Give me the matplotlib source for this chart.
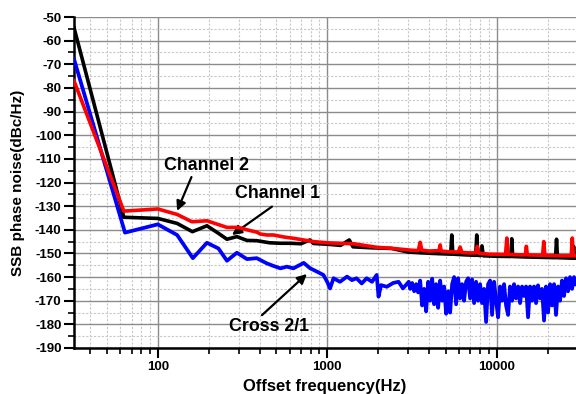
import matplotlib
matplotlib.use("Agg")
import matplotlib.pyplot as plt
from matplotlib.ticker import LogLocator, MultipleLocator, NullFormatter, FixedLocator, FixedFormatter

plt.rcParams['font.family'] = ['Liberation Sans', 'DejaVu Sans']
plt.rcParams['font.weight'] = 'bold'
plt.rcParams['axes.unicode_minus'] = False

# Channel 1 (black)
ch1_f = [32, 63, 100, 130, 160, 195, 228, 256, 293, 336, 384, 457, 530, 605, 700,
         790, 830, 1000, 1200, 1350, 1420, 1800, 2400, 3000, 3500, 4200, 5360, 5440,
         5520, 6500, 7530, 7640, 7750, 8050, 8200, 8350, 10000, 12150, 12300, 12450,
         15000, 22300, 22600, 22900, 28100, 28500, 28900, 29450]
ch1_db = [-54.5, -134.7, -135.2, -137.3, -140.8, -138.3, -141.5, -144, -142.9, -144.5,
          -144.6, -145.5, -145.7, -145.7, -145.9, -144.3, -145.8, -146.1, -146.6, -144.3,
          -147.2, -147.6, -147.9, -149.4, -149.7, -150, -150.3, -142.2, -150.3, -150.6,
          -150.8, -142.2, -150.8, -150.9, -146.8, -151, -151.2, -151.3, -143.8, -151.3,
          -151.5, -151.8, -144, -151.8, -152, -147, -152, -152]

# Channel 2 (red)
ch2_f = [32, 63, 100, 130, 159, 195, 228, 256, 300, 336, 384, 403, 440, 482, 550, 632,
         830, 1000, 1430, 1960, 2380, 3090, 3450, 3540, 3620, 4000, 4580, 4645, 4710,
         5200, 5950, 6095, 6240, 7100, 7550, 7700, 7850, 9000, 11300, 11500, 11700,
         14000, 14800, 15000, 15200, 18700, 19000, 19300, 24000, 27600, 28000, 28400,
         29450]
ch2_db = [-77, -132.1, -131.2, -133.5, -136.6, -136.2, -137.8, -139, -139, -140, -141,
          -141.8, -142.2, -142.2, -143, -143.6, -145, -145.5, -145.9, -147.4, -147.8,
          -148.6, -148.8, -145.3, -148.6, -149, -148.8, -146.4, -149, -149.3, -149.4,
          -147.3, -149.6, -149.8, -149.7, -147, -149.9, -150.3, -150.4, -143.5, -150.4,
          -150.6, -150.6, -147, -150.6, -150.8, -145, -150.8, -151, -151, -143.5, -151,
          -151]

# Cross 2/1 (blue)
cross_f = [32, 64, 100, 130, 161, 195, 228, 256, 293, 336, 384, 403, 440, 482, 530,
           578, 632, 727, 794, 870, 950, 1000, 1040, 1090, 1190, 1310, 1400, 1490, 1600,
           1710, 1840, 1960, 2010, 2080, 2250, 2450, 2640, 2800, 3030,
           3090, 3175, 3263, 3352, 3445, 3540, 3637, 3737, 3840, 3946, 4055, 4166, 4281,
           4399, 4520, 4645, 4773, 4904, 5039, 5178, 5320, 5467, 5617, 5772, 5931, 6094,
           6262, 6434, 6611, 6793, 6980, 7172, 7370, 7573, 7781, 7996, 8216, 8442, 8675,
           8914, 9159, 9411, 9671, 9937, 10211, 10492, 10781, 11078, 11383, 11696, 12018,
           12349, 12689, 13039, 13398, 13767, 14146, 14535, 14936, 15347, 15770, 16204,
           16650, 17109, 17580, 18064, 18562, 19073, 19598, 20138, 20692, 21262, 21848,
           22449, 23067, 23703, 24355, 25026, 25715, 26424, 27151, 27899, 28667, 29457]
cross_db = [-67.8, -141.2, -137.7, -142.2, -152, -145.5, -147.9, -153.1, -149.7, -152.4,
            -152, -152.8, -154.2, -155.3, -156.3, -155.6, -156.3, -154, -156.3, -157.7,
            -159.1, -162, -164.8, -160.5, -162, -159.8, -161.3, -160.5, -162.7, -160.5,
            -162, -159.1, -168.3, -163.4, -164.1, -162.5, -162, -164.8, -162,
            -165, -162.5, -166, -163, -166.5, -161.5, -172, -165, -174.5, -162, -170,
            -160.7, -171.5, -163, -173, -161.5, -170, -164, -175.5, -166, -175, -163,
            -160, -171.5, -160.5, -169, -163, -170, -162, -160.5, -169, -161, -171, -162,
            -170, -163, -171, -165, -179, -163, -161.5, -176, -162, -170, -177, -164,
            -170, -163, -172, -176, -164, -170, -163, -169, -164, -171, -164, -168, -164,
            -177, -164, -170, -164, -171, -163.5, -169, -165, -178.4, -164, -175, -163,
            -172, -163, -176, -164, -170, -161.5, -168, -160.5, -166, -160, -165, -160,
            -163]

fig = plt.figure(figsize=(5.76, 3.94), dpi=100)
ax = fig.add_axes([74 / 576, 1 - 348 / 394, 1 - 74 / 576, (348 - 17) / 394])

ax.plot(cross_f, cross_db, color='#0000ff', lw=2.7, solid_joinstyle='round', zorder=3)
ax.plot(ch1_f, ch1_db, color='black', lw=2.6, solid_joinstyle='round', zorder=4)
ax.plot(ch2_f, ch2_db, color='#ff0000', lw=2.6, solid_joinstyle='round', zorder=5)

ax.set_xscale('log')
ax.set_xlim(32, 29450)
ax.set_ylim(-190, -50)

ax.xaxis.set_major_locator(FixedLocator([100, 1000, 10000]))
ax.xaxis.set_major_formatter(FixedFormatter(['100', '1000', '10000']))
ax.xaxis.set_minor_locator(LogLocator(base=10, subs=range(2, 10)))
ax.xaxis.set_minor_formatter(NullFormatter())
ax.yaxis.set_major_locator(MultipleLocator(10))
ax.yaxis.set_minor_locator(MultipleLocator(5))

ax.grid(True, which='major', color='#8c8c8c', lw=1.0, ls='-', zorder=0)
ax.grid(True, which='minor', color='#c8c8c8', lw=0.8, ls=(0, (2, 1.5)), zorder=0)
ax.set_axisbelow(True)

for s in ['top', 'right']:
    ax.spines[s].set_visible(False)
for s in ['left', 'bottom']:
    ax.spines[s].set_linewidth(1.8)

ax.tick_params(which='major', direction='out', length=7, width=1.5, labelsize=9.5, pad=2)
ax.tick_params(which='minor', direction='out', length=4, width=1.2)
for lbl in ax.get_xticklabels() + ax.get_yticklabels():
    lbl.set_fontweight('bold')

ax.set_xlabel('Offset frequency(Hz)', fontsize=12, fontweight='bold', labelpad=5)
ax.set_ylabel('SSB phase noise(dBc/Hz)', fontsize=11, fontweight='bold', labelpad=7)

arrow = dict(arrowstyle='-|>', color='black', lw=1.6, mutation_scale=14, shrinkA=0, shrinkB=0)
ax.text(193, -112.6, 'Channel 2', fontsize=12.8, fontweight='bold', ha='center', va='center')
ax.annotate('', xy=(130, -132), xytext=(158, -117.7), arrowprops=arrow)
ax.text(507, -124.5, 'Channel 1', fontsize=12.8, fontweight='bold', ha='center', va='center')
ax.annotate('', xy=(274, -142.2), xytext=(472, -130.2), arrowprops=arrow)
ax.text(455, -181.1, 'Cross 2/1', fontsize=12.8, fontweight='bold', ha='center', va='center')
ax.annotate('', xy=(759, -158.7), xytext=(412, -176.1), arrowprops=arrow)

fig.savefig('out.png', dpi=100)
